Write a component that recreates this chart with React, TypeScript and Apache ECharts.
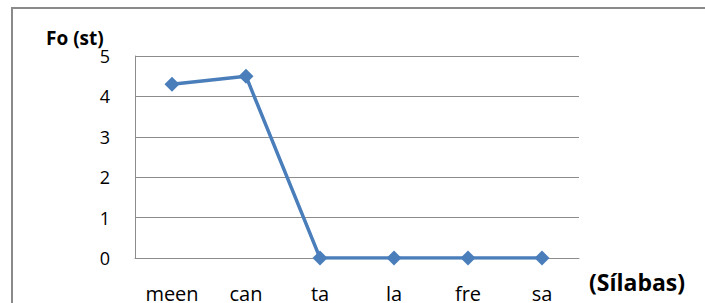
import React, { useEffect, useRef } from "react";
import * as echarts from "echarts";

const categories = ["meen", "can", "ta", "la", "fre", "sa"];
const foValues = [4.3, 4.5, 0, 0, 0, 0];
const yTicks = { min: 0, max: 5, interval: 1 };
const yTitle = "Fo (st)";
const xTitle = "(Sílabas)";

const FONT = "'Open Sans', sans-serif";

export default function App() {
  const ref = useRef<HTMLDivElement>(null);
  useEffect(() => {
    if (!ref.current) return;
    const chart = echarts.init(ref.current, undefined, { renderer: "svg" });
    chart.setOption({
      animation: false,
      backgroundColor: "#ffffff",
      grid: { left: 135, top: 56, width: 444, height: 204, containLabel: false },
      graphic: [
        {
          type: "rect",
          shape: { x: 12, y: 8, width: 800, height: 400 },
          style: { fill: "none", stroke: "#8a8a8a", lineWidth: 2 },
          z: -1,
        },
        {
          type: "text",
          left: 46,
          top: 28,
          style: { text: yTitle, font: `bold 19px ${FONT}`, fill: "#000" },
        },
        {
          type: "text",
          left: 589,
          top: 270,
          style: { text: xTitle, font: `bold 23px ${FONT}`, fill: "#000" },
        },
      ],
      xAxis: {
        type: "category",
        data: categories,
        boundaryGap: true,
        axisLine: { show: true, lineStyle: { color: "#8c8c8c", width: 1 } },
        axisTick: { show: false },
        axisLabel: { margin: 25, fontSize: 20, color: "#000", fontFamily: FONT },
      },
      yAxis: {
        type: "value",
        min: yTicks.min,
        max: yTicks.max,
        interval: yTicks.interval,
        axisLine: { show: true, lineStyle: { color: "#8c8c8c", width: 1 } },
        axisTick: { show: false },
        splitLine: { show: true, lineStyle: { color: "#8c8c8c", width: 1 } },
        axisLabel: { margin: 25, fontSize: 18, color: "#000", fontFamily: FONT },
      },
      series: [
        {
          type: "line",
          data: foValues,
          symbol: "diamond",
          symbolSize: 15,
          lineStyle: { color: "#4a7ebb", width: 3.5 },
          itemStyle: { color: "#4a7ebb" },
        },
      ],
    });
    return () => chart.dispose();
  }, []);
  return (
    <div
      ref={ref}
      style={{ position: "fixed", left: 0, top: 0, width: 705, height: 303 }}
    />
  );
}
